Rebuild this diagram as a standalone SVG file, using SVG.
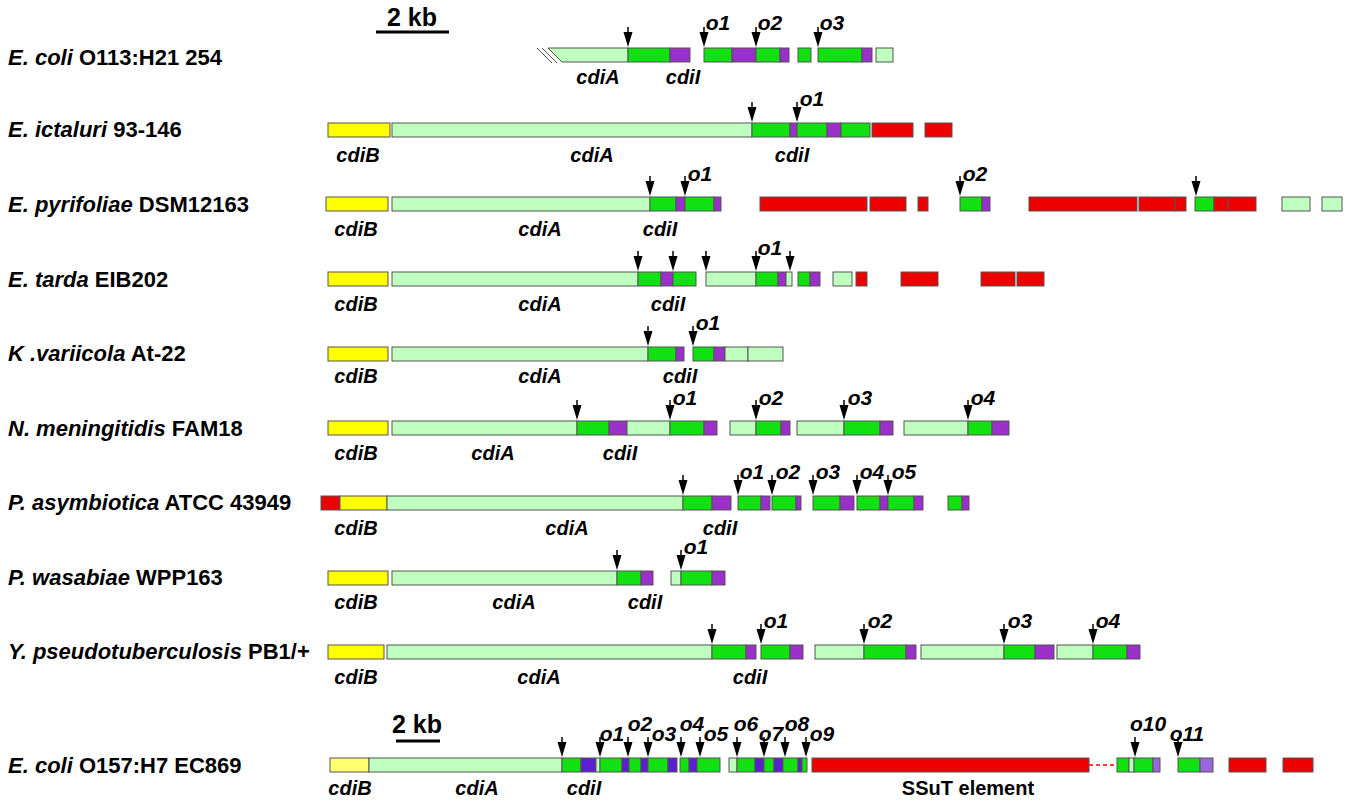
<svg xmlns="http://www.w3.org/2000/svg" width="1349" height="800" viewBox="0 0 1349 800">
<style>
rect{stroke:#555;stroke-width:1;height:14px}
.l{fill:#bfffbf}.g{fill:#11e011}.p{fill:#9b2fc9}.r{fill:#ee0000}.y{fill:#ffff00}.v{fill:#5a1fd0}.py{fill:#ffff70}.lp{fill:#9966dd}
text{font-family:"Liberation Sans",Arial,sans-serif;font-weight:bold;font-size:20px;fill:#000}
.it{font-style:italic}
.gl{font-style:italic;text-anchor:middle}
.o{font-style:italic;text-anchor:middle;font-size:21px}
.sp{font-size:22px}
.kb{font-size:25px;text-anchor:middle}
</style>
<defs>
<g id="a"><line x1="0" y1="-20" x2="0" y2="-8" stroke="#000" stroke-width="1.5"/><path d="M0,0 L-4.5,-15 L4.5,-15 Z" fill="#000"/></g>
</defs>
<g id="scale">
<text x="412" y="26" class="kb">2 kb</text><line x1="376" y1="32" x2="449" y2="32" stroke="#000" stroke-width="3"/>
<text x="417" y="733" class="kb">2 kb</text><line x1="396" y1="741" x2="440" y2="741" stroke="#000" stroke-width="3"/>
</g>
<g id="labels">
<text x="8" y="65" class="sp"><tspan class="it">E. coli</tspan> O113:H21 254</text>
<text x="8" y="137" class="sp"><tspan class="it">E. ictaluri</tspan> 93-146</text>
<text x="8" y="212" class="sp"><tspan class="it">E. pyrifoliae</tspan> DSM12163</text>
<text x="8" y="287" class="sp"><tspan class="it">E. tarda</tspan> EIB202</text>
<text x="8" y="361" class="sp"><tspan class="it">K .variicola</tspan> At-22</text>
<text x="8" y="436" class="sp"><tspan class="it">N. meningitidis</tspan> FAM18</text>
<text x="8" y="510" class="sp"><tspan class="it">P. asymbiotica</tspan> ATCC 43949</text>
<text x="8" y="585" class="sp"><tspan class="it">P. wasabiae</tspan> WPP163</text>
<text x="8" y="659" class="sp"><tspan class="it">Y. pseudotuberculosis</tspan> PB1/+</text>
<text x="8" y="773" class="sp"><tspan class="it">E. coli</tspan> O157:H7 EC869</text>
</g>
<g id="row1">
<polygon points="548,48 628,48 628,62 562,62" class="l" stroke="#555"/>
<line x1="537" y1="48" x2="552" y2="63" stroke="#555"/><line x1="542" y1="48" x2="557" y2="63" stroke="#555"/>
<rect x="628" y="48" width="42" class="g"/><rect x="670" y="48" width="20" class="p"/>
<rect x="704" y="48" width="28" class="g"/><rect x="732" y="48" width="24" class="p"/><rect x="756" y="48" width="24" class="g"/><rect x="780" y="48" width="9" class="p"/>
<rect x="798" y="48" width="13" class="g"/><rect x="818" y="48" width="44" class="g"/><rect x="862" y="48" width="10" class="p"/><rect x="876" y="48" width="17" class="l"/>
<use href="#a" x="628" y="47"/><use href="#a" x="704" y="47"/><use href="#a" x="756" y="47"/><use href="#a" x="818" y="47"/>
<text x="718" y="30" class="o">o1</text><text x="770" y="30" class="o">o2</text><text x="832" y="30" class="o">o3</text>
<text x="598" y="84" class="gl">cdiA</text><text x="683" y="84" class="gl">cdiI</text>
</g>
<g id="row2">
<rect x="328" y="123" width="62" class="y"/><rect x="392" y="123" width="360" class="l"/><rect x="752" y="123" width="38" class="g"/><rect x="790" y="123" width="7" class="p"/><rect x="797" y="123" width="30" class="g"/><rect x="827" y="123" width="14" class="p"/><rect x="841" y="123" width="29" class="g"/><rect x="872" y="123" width="41" class="r"/><rect x="925" y="123" width="27" class="r"/>
<use href="#a" x="752" y="122"/><use href="#a" x="797" y="122"/>
<text x="812" y="106" class="o">o1</text>
<text x="358" y="162" class="gl">cdiB</text><text x="592" y="162" class="gl">cdiA</text><text x="792" y="162" class="gl">cdiI</text>
</g>
<g id="row3">
<rect x="326" y="197" width="62" class="y"/><rect x="392" y="197" width="258" class="l"/><rect x="650" y="197" width="26" class="g"/><rect x="676" y="197" width="9" class="p"/><rect x="685" y="197" width="29" class="g"/><rect x="714" y="197" width="7" class="p"/>
<rect x="760" y="197" width="107" class="r"/><rect x="870" y="197" width="36" class="r"/><rect x="918" y="197" width="10" class="r"/><rect x="960" y="197" width="22" class="g"/><rect x="982" y="197" width="8" class="p"/>
<rect x="1029" y="197" width="108" class="r"/><rect x="1139" y="197" width="36" class="r"/><rect x="1175" y="197" width="11" class="r"/><rect x="1195" y="197" width="19" class="g"/><rect x="1214" y="197" width="14" class="r"/><rect x="1228" y="197" width="28" class="r"/><rect x="1282" y="197" width="28" class="l"/><rect x="1322" y="197" width="20" class="l"/>
<use href="#a" x="650" y="196"/><use href="#a" x="685" y="196"/><use href="#a" x="960" y="196"/><use href="#a" x="1196" y="196"/>
<text x="700" y="181" class="o">o1</text><text x="975" y="181" class="o">o2</text>
<text x="356" y="236" class="gl">cdiB</text><text x="540" y="236" class="gl">cdiA</text><text x="660" y="236" class="gl">cdiI</text>
</g>
<g id="row4">
<rect x="328" y="272" width="60" class="y"/><rect x="392" y="272" width="246" class="l"/><rect x="638" y="272" width="23" class="g"/><rect x="661" y="272" width="12" class="p"/><rect x="673" y="272" width="23" class="g"/>
<rect x="706" y="272" width="50" class="l"/><rect x="756" y="272" width="22" class="g"/><rect x="778" y="272" width="8" class="p"/><rect x="786" y="272" width="6" class="l"/><rect x="798" y="272" width="12" class="g"/><rect x="810" y="272" width="10" class="p"/><rect x="833" y="272" width="19" class="l"/><rect x="856" y="272" width="11" class="r"/><rect x="901" y="272" width="37" class="r"/><rect x="981" y="272" width="34" class="r"/><rect x="1017" y="272" width="27" class="r"/>
<use href="#a" x="638" y="271"/><use href="#a" x="673" y="271"/><use href="#a" x="706" y="271"/><use href="#a" x="756" y="271"/><use href="#a" x="790" y="271"/>
<text x="770" y="255" class="o">o1</text>
<text x="356" y="311" class="gl">cdiB</text><text x="540" y="311" class="gl">cdiA</text><text x="668" y="311" class="gl">cdiI</text>
</g>
<g id="row5">
<rect x="328" y="347" width="60" class="y"/><rect x="392" y="347" width="256" class="l"/><rect x="648" y="347" width="28" class="g"/><rect x="676" y="347" width="8" class="p"/><rect x="693" y="347" width="21" class="g"/><rect x="714" y="347" width="11" class="p"/><rect x="725" y="347" width="23" class="l"/><rect x="748" y="347" width="35" class="l"/>
<use href="#a" x="648" y="346"/><use href="#a" x="693" y="346"/>
<text x="708" y="330" class="o">o1</text>
<text x="356" y="383" class="gl">cdiB</text><text x="540" y="383" class="gl">cdiA</text><text x="680" y="383" class="gl">cdiI</text>
</g>
<g id="row6">
<rect x="328" y="421" width="60" class="y"/><rect x="392" y="421" width="185" class="l"/><rect x="577" y="421" width="32" class="g"/><rect x="609" y="421" width="18" class="p"/><rect x="627" y="421" width="43" class="l"/><rect x="670" y="421" width="34" class="g"/><rect x="704" y="421" width="13" class="p"/>
<rect x="730" y="421" width="26" class="l"/><rect x="756" y="421" width="25" class="g"/><rect x="781" y="421" width="9" class="p"/><rect x="797" y="421" width="47" class="l"/><rect x="844" y="421" width="36" class="g"/><rect x="880" y="421" width="13" class="p"/><rect x="904" y="421" width="64" class="l"/><rect x="968" y="421" width="24" class="g"/><rect x="992" y="421" width="17" class="p"/>
<use href="#a" x="577" y="420"/><use href="#a" x="670" y="420"/><use href="#a" x="756" y="420"/><use href="#a" x="844" y="420"/><use href="#a" x="968" y="420"/>
<text x="685" y="405" class="o">o1</text><text x="771" y="405" class="o">o2</text><text x="860" y="405" class="o">o3</text><text x="983" y="405" class="o">o4</text>
<text x="356" y="460" class="gl">cdiB</text><text x="493" y="460" class="gl">cdiA</text><text x="620" y="460" class="gl">cdiI</text>
</g>
<g id="row7">
<rect x="321" y="496" width="19" class="r"/><rect x="340" y="496" width="47" class="y"/><rect x="387" y="496" width="296" class="l"/><rect x="683" y="496" width="29" class="g"/><rect x="712" y="496" width="19" class="p"/>
<rect x="738" y="496" width="23" class="g"/><rect x="761" y="496" width="9" class="p"/><rect x="772" y="496" width="24" class="g"/><rect x="796" y="496" width="5" class="p"/><rect x="813" y="496" width="27" class="g"/><rect x="840" y="496" width="14" class="p"/><rect x="857" y="496" width="23" class="g"/><rect x="880" y="496" width="8" class="p"/><rect x="888" y="496" width="26" class="g"/><rect x="914" y="496" width="9" class="p"/><rect x="948" y="496" width="14" class="g"/><rect x="962" y="496" width="7" class="p"/>
<use href="#a" x="683" y="495"/><use href="#a" x="738" y="495"/><use href="#a" x="772" y="495"/><use href="#a" x="813" y="495"/><use href="#a" x="857" y="495"/><use href="#a" x="888" y="495"/>
<text x="752" y="479" class="o">o1</text><text x="788" y="479" class="o">o2</text><text x="828" y="479" class="o">o3</text><text x="872" y="479" class="o">o4</text><text x="904" y="479" class="o">o5</text>
<text x="356" y="535" class="gl">cdiB</text><text x="567" y="535" class="gl">cdiA</text><text x="720" y="535" class="gl">cdiI</text>
</g>
<g id="row8">
<rect x="328" y="571" width="60" class="y"/><rect x="392" y="571" width="225" class="l"/><rect x="617" y="571" width="24" class="g"/><rect x="641" y="571" width="12" class="p"/><rect x="671" y="571" width="10" class="l"/><rect x="681" y="571" width="31" class="g"/><rect x="712" y="571" width="13" class="p"/>
<use href="#a" x="617" y="570"/><use href="#a" x="681" y="570"/>
<text x="696" y="554" class="o">o1</text>
<text x="356" y="609" class="gl">cdiB</text><text x="514" y="609" class="gl">cdiA</text><text x="645" y="609" class="gl">cdiI</text>
</g>
<g id="row9">
<rect x="328" y="645" width="56" class="y"/><rect x="387" y="645" width="325" class="l"/><rect x="712" y="645" width="34" class="g"/><rect x="746" y="645" width="10" class="p"/><rect x="761" y="645" width="29" class="g"/><rect x="790" y="645" width="13" class="p"/>
<rect x="815" y="645" width="49" class="l"/><rect x="864" y="645" width="42" class="g"/><rect x="906" y="645" width="10" class="p"/><rect x="921" y="645" width="83" class="l"/><rect x="1004" y="645" width="31" class="g"/><rect x="1035" y="645" width="19" class="p"/><rect x="1057" y="645" width="36" class="l"/><rect x="1093" y="645" width="34" class="g"/><rect x="1127" y="645" width="13" class="p"/>
<use href="#a" x="712" y="644"/><use href="#a" x="761" y="644"/><use href="#a" x="864" y="644"/><use href="#a" x="1004" y="644"/><use href="#a" x="1093" y="644"/>
<text x="776" y="628" class="o">o1</text><text x="880" y="628" class="o">o2</text><text x="1020" y="628" class="o">o3</text><text x="1108" y="628" class="o">o4</text>
<text x="356" y="684" class="gl">cdiB</text><text x="539" y="684" class="gl">cdiA</text><text x="750" y="684" class="gl">cdiI</text>
</g>
<g id="row10">
<rect x="330" y="758" width="39" class="py"/><rect x="369" y="758" width="193" class="l"/><rect x="562" y="758" width="19" class="g"/><rect x="581" y="758" width="15" class="v"/><rect x="596" y="758" width="4" class="l"/>
<rect x="600" y="758" width="22" class="g"/><rect x="622" y="758" width="7" class="v"/><rect x="629" y="758" width="12" class="g"/><rect x="641" y="758" width="7" class="v"/><rect x="648" y="758" width="20" class="g"/><rect x="668" y="758" width="9" class="v"/><rect x="680" y="758" width="9" class="g"/><rect x="689" y="758" width="8" class="v"/><rect x="697" y="758" width="23" class="g"/>
<rect x="729" y="758" width="8" class="l"/><rect x="737" y="758" width="18" class="g"/><rect x="755" y="758" width="9" class="v"/><rect x="764" y="758" width="10" class="g"/><rect x="774" y="758" width="9" class="v"/><rect x="783" y="758" width="15" class="g"/><rect x="798" y="758" width="4" class="v"/><rect x="802" y="758" width="5" class="g"/>
<rect x="812" y="758" width="277" class="r"/><line x1="1089" y1="765" x2="1116" y2="765" stroke="#ee0000" stroke-width="1.5" stroke-dasharray="4,3"/>
<rect x="1117" y="758" width="12" class="g"/><rect x="1129" y="758" width="5" class="l"/><rect x="1134" y="758" width="19" class="g"/><rect x="1153" y="758" width="7" class="lp"/><rect x="1178" y="758" width="22" class="g"/><rect x="1200" y="758" width="13" class="lp"/><rect x="1229" y="758" width="37" class="r"/><rect x="1283" y="758" width="30" class="r"/>
<use href="#a" x="562" y="757"/><use href="#a" x="600" y="757"/><use href="#a" x="628" y="757"/><use href="#a" x="648" y="757"/><use href="#a" x="681" y="757"/><use href="#a" x="700" y="757"/><use href="#a" x="737" y="757"/><use href="#a" x="764" y="757"/><use href="#a" x="785" y="757"/><use href="#a" x="806" y="757"/><use href="#a" x="1135" y="757"/><use href="#a" x="1178" y="757"/>
<text x="612" y="741" class="o">o1</text><text x="640" y="731" class="o">o2</text><text x="664" y="741" class="o">o3</text><text x="692" y="731" class="o">o4</text><text x="716" y="741" class="o">o5</text><text x="746" y="731" class="o">o6</text><text x="771" y="741" class="o">o7</text><text x="797" y="731" class="o">o8</text><text x="822" y="741" class="o">o9</text><text x="1148" y="731" class="o">o10</text><text x="1187" y="741" class="o">o11</text>
<text x="350" y="795" class="gl">cdiB</text><text x="477" y="795" class="gl">cdiA</text><text x="584" y="795" class="gl">cdiI</text><text x="968" y="795" text-anchor="middle">SSuT element</text>
</g>
</svg>
